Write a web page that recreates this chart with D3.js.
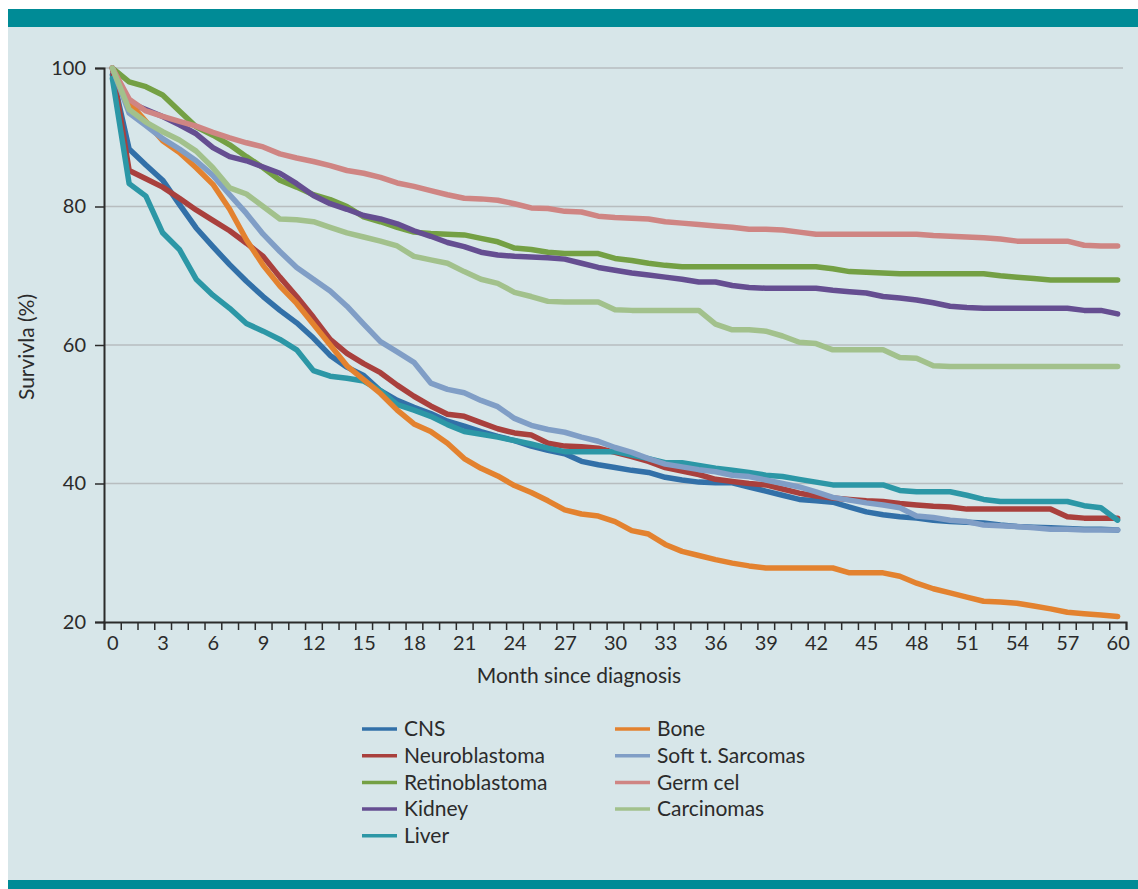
<!DOCTYPE html>
<html>
<head>
<meta charset="utf-8">
<script src="https://cdn.jsdelivr.net/npm/d3@7"></script>
<style>
  body { margin: 0; background: #fff; }
  svg { display: block; font-family: Lato, "Open Sans", sans-serif; }
</style>
</head>
<body>
<script>
// Month since diagnosis 0..60
const months = d3.range(0, 61);
const tickLabels = d3.range(0, 61, 3);
const yTicks = [20, 40, 60, 80, 100];

// Survival (%) per month
const cns = [99, 88.3, 86.0, 83.8, 80.3, 76.9, 74.2, 71.6, 69.2, 67.0, 65.0, 63.2, 61.0, 58.5, 56.8, 55.6, 53.4, 52.0, 51.0, 50.1, 49.0, 48.3, 47.5, 46.8, 46.2, 45.4, 44.8, 44.3, 43.2, 42.7, 42.3, 41.9, 41.6, 40.9, 40.5, 40.2, 40.1, 40.1, 39.5, 38.9, 38.3, 37.7, 37.5, 37.3, 36.6, 35.9, 35.5, 35.2, 35.0, 34.7, 34.5, 34.4, 34.3, 34.0, 33.8, 33.7, 33.6, 33.5, 33.4, 33.4, 33.3];
const neuroblastoma = [100, 85.2, 84.0, 82.8, 81.2, 79.5, 78.0, 76.5, 74.7, 72.8, 69.8, 67.0, 64.0, 60.8, 58.8, 57.3, 56.0, 54.2, 52.6, 51.2, 50.0, 49.7, 48.8, 47.9, 47.3, 47.0, 45.8, 45.4, 45.3, 45.1, 44.5, 43.9, 43.2, 42.3, 41.8, 41.3, 40.6, 40.3, 40.0, 39.8, 39.2, 38.6, 38.2, 37.9, 37.7, 37.5, 37.4, 37.1, 36.9, 36.7, 36.6, 36.3, 36.3, 36.3, 36.3, 36.3, 36.3, 35.2, 35.0, 35.0, 35.0];
const retinoblastoma = [100, 98.0, 97.3, 96.1, 93.8, 91.5, 90.3, 88.9, 87.2, 85.6, 83.8, 82.8, 81.7, 81.0, 80.0, 78.5, 77.8, 77.0, 76.3, 76.1, 76.0, 75.9, 75.4, 74.9, 74.0, 73.8, 73.4, 73.2, 73.2, 73.2, 72.5, 72.2, 71.8, 71.5, 71.3, 71.3, 71.3, 71.3, 71.3, 71.3, 71.3, 71.3, 71.3, 71.0, 70.6, 70.5, 70.4, 70.3, 70.3, 70.3, 70.3, 70.3, 70.3, 70.0, 69.8, 69.6, 69.4, 69.4, 69.4, 69.4, 69.4];
const kidney = [100, 95.0, 94.0, 93.0, 91.8, 90.5, 88.5, 87.2, 86.6, 85.7, 84.8, 83.3, 81.6, 80.4, 79.6, 78.7, 78.2, 77.5, 76.5, 75.7, 74.8, 74.2, 73.4, 73.0, 72.8, 72.7, 72.6, 72.4, 71.8, 71.2, 70.8, 70.4, 70.1, 69.8, 69.5, 69.1, 69.1, 68.6, 68.3, 68.2, 68.2, 68.2, 68.2, 67.9, 67.7, 67.5, 67.0, 66.8, 66.5, 66.1, 65.6, 65.4, 65.3, 65.3, 65.3, 65.3, 65.3, 65.3, 65.0, 65.0, 64.5];
const liver = [98.5, 83.3, 81.5, 76.2, 73.8, 69.5, 67.2, 65.3, 63.1, 62.0, 60.8, 59.3, 56.3, 55.5, 55.2, 54.8, 53.4, 51.4, 50.6, 49.7, 48.5, 47.5, 47.1, 46.7, 46.2, 45.7, 45.1, 44.6, 44.6, 44.6, 44.6, 44.1, 43.6, 43.0, 43.0, 42.6, 42.2, 41.9, 41.6, 41.2, 41.0, 40.6, 40.2, 39.8, 39.8, 39.8, 39.8, 39.0, 38.8, 38.8, 38.8, 38.3, 37.7, 37.4, 37.4, 37.4, 37.4, 37.4, 36.8, 36.5, 34.7];
const bone = [100, 95.0, 92.3, 89.5, 87.8, 85.6, 83.2, 79.6, 75.2, 71.5, 68.5, 66.0, 63.0, 60.0, 57.0, 55.0, 53.0, 50.6, 48.6, 47.5, 45.8, 43.6, 42.2, 41.1, 39.7, 38.7, 37.5, 36.2, 35.6, 35.3, 34.5, 33.2, 32.7, 31.2, 30.2, 29.6, 29.0, 28.5, 28.1, 27.8, 27.8, 27.8, 27.8, 27.8, 27.1, 27.1, 27.1, 26.6, 25.6, 24.8, 24.2, 23.6, 23.0, 22.9, 22.7, 22.3, 21.9, 21.4, 21.2, 21.0, 20.8];
const softSarcomas = [100, 93.5, 91.7, 89.8, 88.3, 86.6, 84.5, 81.7, 79.0, 76.0, 73.5, 71.2, 69.5, 67.8, 65.6, 63.0, 60.5, 59.0, 57.5, 54.5, 53.6, 53.1, 52.0, 51.1, 49.4, 48.4, 47.8, 47.4, 46.7, 46.1, 45.2, 44.5, 43.6, 42.8, 42.4, 42.0, 41.7, 41.2, 41.0, 40.5, 40.0, 39.5, 38.8, 38.0, 37.6, 37.2, 36.9, 36.5, 35.3, 35.1, 34.7, 34.5, 34.0, 33.9, 33.8, 33.6, 33.4, 33.4, 33.3, 33.3, 33.3];
const germCel = [100, 95.5, 93.8, 93.0, 92.3, 91.6, 90.7, 89.9, 89.2, 88.6, 87.6, 87.0, 86.5, 85.9, 85.2, 84.8, 84.2, 83.4, 82.9, 82.3, 81.7, 81.2, 81.1, 80.9, 80.4, 79.8, 79.7, 79.3, 79.2, 78.6, 78.4, 78.3, 78.2, 77.8, 77.6, 77.4, 77.2, 77.0, 76.7, 76.7, 76.6, 76.3, 76.0, 76.0, 76.0, 76.0, 76.0, 76.0, 76.0, 75.8, 75.7, 75.6, 75.5, 75.3, 75.0, 75.0, 75.0, 75.0, 74.4, 74.3, 74.3];
const carcinomas = [100, 94.0, 92.2, 90.8, 89.6, 88.0, 85.6, 82.7, 81.8, 80.0, 78.2, 78.1, 77.8, 77.0, 76.2, 75.6, 75.0, 74.3, 72.8, 72.3, 71.8, 70.6, 69.5, 68.9, 67.6, 67.0, 66.3, 66.2, 66.2, 66.2, 65.1, 65.0, 65.0, 65.0, 65.0, 65.0, 63.0, 62.2, 62.2, 62.0, 61.3, 60.4, 60.2, 59.3, 59.3, 59.3, 59.3, 58.2, 58.1, 57.0, 56.9, 56.9, 56.9, 56.9, 56.9, 56.9, 56.9, 56.9, 56.9, 56.9, 56.9];

const seriesNames = ['CNS', 'Neuroblastoma', 'Retinoblastoma', 'Kidney', 'Liver', 'Bone', 'Soft t. Sarcomas', 'Germ cel', 'Carcinomas'];
const seriesValues = [cns, neuroblastoma, retinoblastoma, kidney, liver, bone, softSarcomas, germCel, carcinomas];
const seriesColors = ['#3270a8', '#a9403d', '#74a044', '#654e91', '#2c97a6', '#e3822f', '#809ec6', '#cf8583', '#a2c18c'];

const width = 1138, height = 889;
const teal = '#008b96';
const textColour = '#2b2b2b';

const svg = d3.select('body')
    .append('svg')
    .attr('width', width)
    .attr('height', height);

// panel background and bars
svg.append('rect')
    .attr('x', 8).attr('y', 9)
    .attr('width', width - 8).attr('height', height - 9)
    .attr('fill', '#d7e6e9');
svg.append('rect')
    .attr('x', 8).attr('y', 9)
    .attr('width', width - 8).attr('height', 18)
    .attr('fill', teal);
svg.append('rect')
    .attr('x', 8).attr('y', 880)
    .attr('width', width - 8).attr('height', 9)
    .attr('fill', teal);

// scales
const x = d3.scaleLinear().domain([-0.5, 60.5]).range([104, 1126]);
const y = d3.scaleLinear().domain([20, 100]).range([622, 68]);

// gridlines
svg.append('g')
    .selectAll('line')
    .data(yTicks.filter(d => d > 20))
    .join('line')
        .attr('x1', x(-0.5)).attr('x2', 1123)
        .attr('y1', d => y(d)).attr('y2', d => y(d))
        .attr('stroke', '#b7bdbf')
        .attr('stroke-width', 1.5);

// y axis
const yAxis = svg.append('g')
    .attr('transform', `translate(${x(-0.5)},0)`)
    .call(d3.axisLeft(y).tickValues(yTicks).tickSize(9).tickPadding(9));
yAxis.select('.domain').attr('stroke', textColour).attr('stroke-width', 2);
yAxis.selectAll('.tick line').attr('stroke', textColour).attr('stroke-width', 1.5);
yAxis.selectAll('text')
    .attr('font-size', 20)
    .attr('fill', textColour)
    .style('font-family', 'Lato, "Open Sans", sans-serif');

// x axis: tick marks between months, labels every 3 months
const xTickMarks = svg.append('g')
    .attr('transform', `translate(0,${y(20)})`)
    .call(d3.axisBottom(x).tickValues(months.concat([61]).map(m => m - 0.5)).tickSize(8).tickFormat(''));
xTickMarks.select('.domain').attr('stroke', textColour).attr('stroke-width', 2);
xTickMarks.selectAll('.tick line').attr('stroke', textColour).attr('stroke-width', 1.5);

const xLabels = svg.append('g')
    .attr('transform', `translate(0,${y(20)})`)
    .call(d3.axisBottom(x).tickValues(tickLabels).tickSize(0).tickPadding(14));
xLabels.select('.domain').remove();
xLabels.selectAll('text')
    .attr('font-size', 20)
    .attr('fill', textColour)
    .style('font-family', 'Lato, "Open Sans", sans-serif');

// axis titles
svg.append('text')
    .attr('x', 579).attr('y', 683)
    .attr('text-anchor', 'middle')
    .attr('font-size', 21)
    .attr('fill', textColour)
    .text('Month since diagnosis');

svg.append('text')
    .attr('transform', 'translate(34,347) rotate(-90)')
    .attr('text-anchor', 'middle')
    .attr('font-size', 21)
    .attr('fill', textColour)
    .text('Survivla (%)');

// lines
const line = d3.line()
    .x((_, i) => x(months[i]))
    .y(d => y(d));

svg.append('g')
    .selectAll('path')
    .data(seriesValues)
    .join('path')
        .attr('d', d => line(d))
        .attr('fill', 'none')
        .attr('stroke', (_, i) => seriesColors[i])
        .attr('stroke-width', 5.5)
        .attr('stroke-linejoin', 'round')
        .attr('stroke-linecap', 'round');

// legend: two columns
const legend = svg.append('g')
    .selectAll('g')
    .data(seriesNames)
    .join('g')
        .attr('transform', (_, i) => {
            const col = i < 5 ? 0 : 1;
            const row = i < 5 ? i : i - 5;
            return `translate(${col === 0 ? 362 : 615},${729 + row * 26.7})`;
        });

legend.append('line')
    .attr('x1', 0).attr('x2', 35)
    .attr('stroke', (_, i) => seriesColors[i])
    .attr('stroke-width', 3.5);

legend.append('text')
    .attr('x', 42).attr('y', 0)
    .attr('dy', '0.35em')
    .attr('font-size', 21)
    .attr('fill', textColour)
    .text(d => d);
</script>
</body>
</html>
